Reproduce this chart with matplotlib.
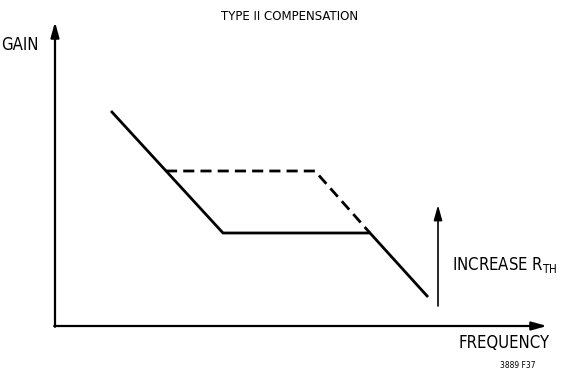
import matplotlib.pyplot as plt

plt.rcParams['font.family'] = ['DejaVu Sans']
plt.rcParams['font.stretch'] = 'condensed'
plt.rcParams['mathtext.fontset'] = 'custom'
plt.rcParams['mathtext.rm'] = 'DejaVu Sans:stretch=condensed'
plt.rcParams['mathtext.default'] = 'regular'

# asymptotic gain curves (arbitrary units, origin at the axes corner)
solid_freq = [56, 168, 315, 373]
solid_gain = [215, 93, 93, 29]
dashed_freq = [111, 260, 315]
dashed_gain = [155, 155, 93]

fig = plt.figure(figsize=(5.61, 3.71), dpi=100)
ax = fig.add_axes([0, 0, 1, 1])
ax.set_xlim(-55, 506)
ax.set_ylim(-45, 326)
ax.axis('off')

# axes arrows
arrow = dict(arrowstyle='-|>,head_length=0.9,head_width=0.25', color='black', lw=1.6,
             shrinkA=0, shrinkB=0)
ax.annotate('', xy=(0, 304), xytext=(0, -0.8), arrowprops=arrow)
ax.annotate('', xy=(492, 0), xytext=(-0.8, 0), arrowprops=arrow)

ax.plot(solid_freq, solid_gain, color='black', lw=2.0, solid_capstyle='butt')
ax.plot(dashed_freq, dashed_gain, color='black', lw=2.0, dashes=(4, 2.2))

# "increase R_TH" arrow
ax.annotate('', xy=(383, 121), xytext=(383, 20),
            arrowprops=dict(arrowstyle='-|>,head_length=0.9,head_width=0.25',
                            color='black', lw=1.2, shrinkA=0, shrinkB=0))
ax.text(397, 61, 'INCREASE R$_{TH}$', fontsize=12, va='center', ha='left')

ax.text(-35, 281, 'GAIN', fontsize=12, va='center', ha='center')
ax.text(495, -17, 'FREQUENCY', fontsize=12, va='center', ha='right')
ax.text(235, 309, 'TYPE II COMPENSATION', fontsize=8.5, va='center', ha='center',
        stretch='normal')
ax.text(480, -39, '3889 F37', fontsize=6, va='center', ha='right')

fig.savefig('out.png', dpi=100)
